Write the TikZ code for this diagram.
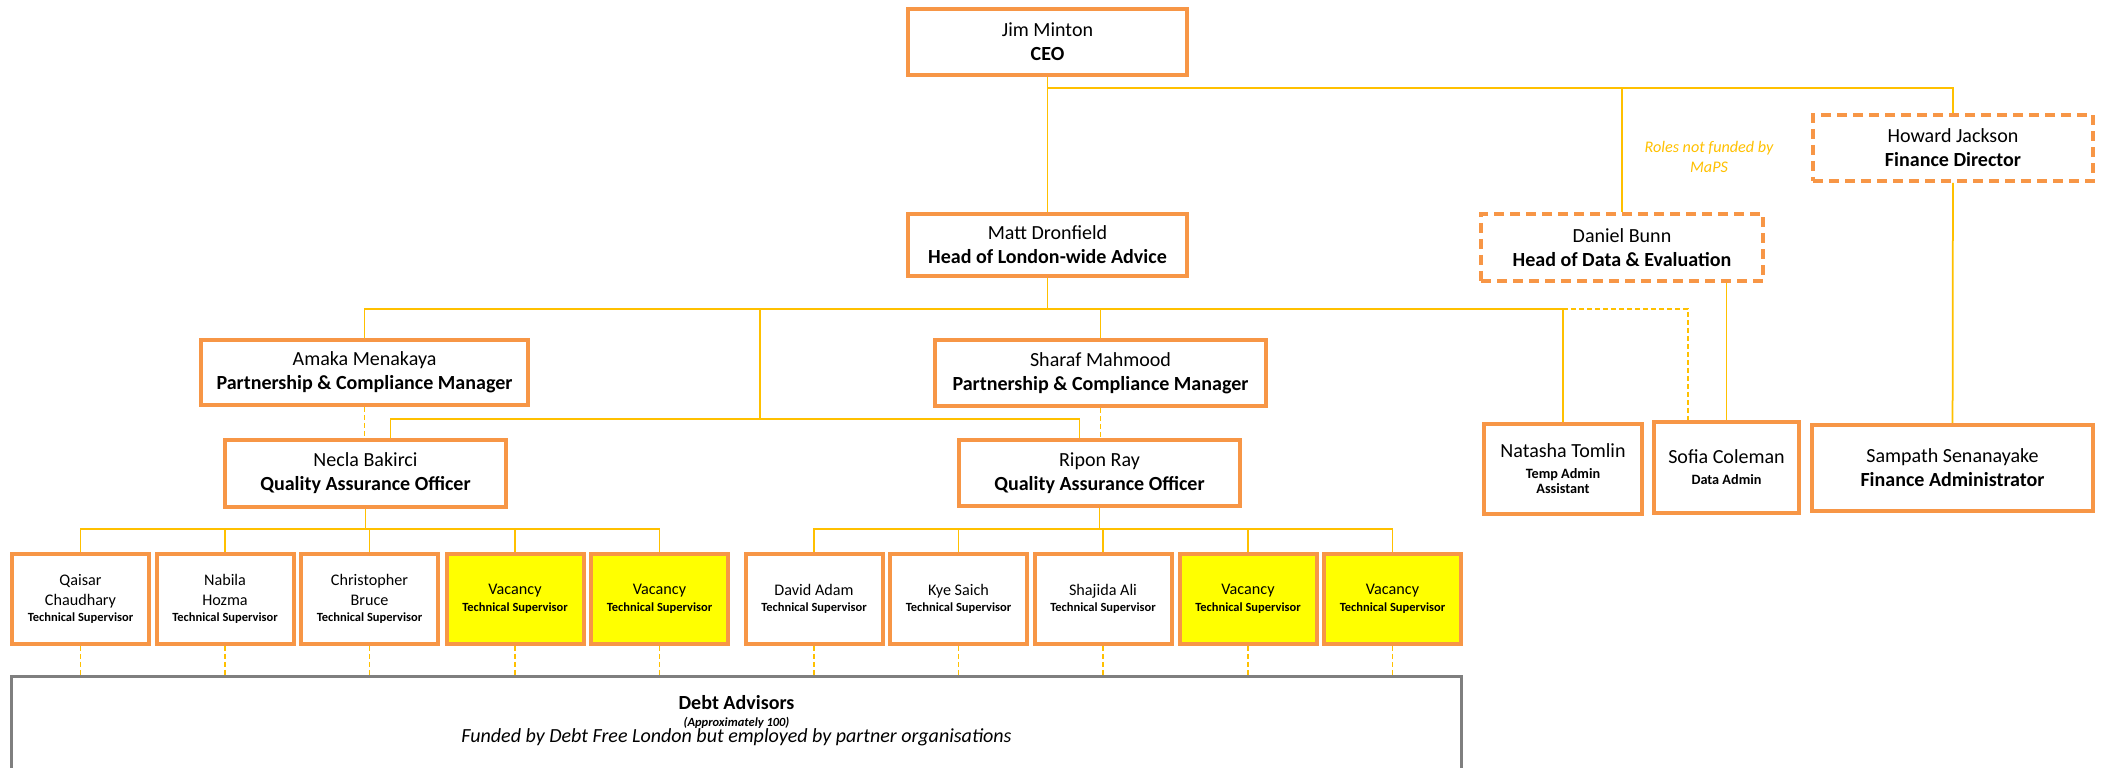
\documentclass[tikz,border=0pt]{standalone}
\usepackage{fontspec}
\setmainfont{Carlito}
\usepackage{xcolor}
\usepackage{tikz}
\usetikzlibrary{calc}
\definecolor{chartorange}{RGB}{247,150,70}
\definecolor{chartgold}{RGB}{255,192,0}
\definecolor{vacyellow}{RGB}{255,255,0}
\definecolor{debtgrey}{RGB}{127,127,127}
\newcommand{\rolefont}{\fontsize{7.1}{8.5}\selectfont\bfseries}
\newcommand{\adminfont}{\fontsize{8.1}{9.5}\selectfont\bfseries}

\tikzset{
  post/.style={draw=chartorange, line width=0.8mm, fill=white, align=center, inner sep=0.5mm, font=\fontsize{11.4}{13.7}\selectfont},
  unfunded/.style={post, dash pattern=on 2mm off 1.2mm},
  tsbox/.style={post, minimum width=27.4mm, minimum height=18mm, font=\fontsize{9.2}{11.4}\selectfont},
  vacancy/.style={tsbox, fill=vacyellow},
  debtbox/.style={draw=debtgrey, line width=0.6mm, minimum width=290mm, minimum height=30mm},
  link/.style={draw=chartgold, line width=0.35mm},
  dlink/.style={draw=chartgold, line width=0.3mm, dash pattern=on 1mm off 0.6mm},
}

\begin{document}
\begin{tikzpicture}[x=0.2mm, y=-0.2mm]
    \useasboundingbox (0,0) rectangle (2105,768);
    \clip (0,0) rectangle (2105,768);
    % top level
    \node[post, minimum width=55.8mm, minimum height=13.2mm] (ceo) at (1047.5,42) {Jim Minton\\\textbf{CEO}};
    \node[post, minimum width=55.8mm, minimum height=12.4mm] (matt) at (1047.5,245) {Matt Dronfield\\\textbf{Head of London-wide Advice}};
    \node[unfunded, minimum width=56.4mm, minimum height=13.4mm] (daniel) at (1622,247.5) {Daniel Bunn\\\textbf{Head of Data \& Evaluation}};
    \node[unfunded, minimum width=56mm, minimum height=13.2mm] (howard) at (1953,148) {Howard Jackson\\\textbf{Finance Director}};
    \node[font=\fontsize{9.2}{11.4}\selectfont\itshape, text=chartgold, align=center] (rolesnote) at (1709,157) {Roles not funded by\\MaPS};
    % managers and officers
    \node[post, minimum width=65.4mm, minimum height=13mm] (amaka) at (364.5,372.5) {Amaka Menakaya\\\textbf{Partnership \& Compliance Manager}};
    \node[post, minimum width=66.2mm, minimum height=13.2mm] (sharaf) at (1100.5,373) {Sharaf Mahmood\\\textbf{Partnership \& Compliance Manager}};
    \node[post, minimum width=56.2mm, minimum height=13.4mm] (necla) at (365.5,473.5) {Necla Bakirci\\\textbf{Quality Assurance Officer}};
    \node[post, minimum width=56.2mm, minimum height=13.2mm] (ripon) at (1099.5,473) {Ripon Ray\\\textbf{Quality Assurance Officer}};
    \node[post, minimum width=31.6mm, minimum height=18mm] (natasha) at (1563,469) {Natasha Tomlin\\[-1.7pt]{\adminfont Temp Admin}\\[-5.2pt]{\adminfont Assistant}};
    \node[post, minimum width=29mm, minimum height=18.2mm] (sofia) at (1726.5,467.5) {Sofia Coleman\\[-1.7pt]{\adminfont Data Admin}};
    \node[post, minimum width=56.2mm, minimum height=17.2mm] (sampath) at (1952.5,468) {Sampath Senanayake\\\textbf{Finance Administrator}};
    % technical supervisors
    \node[tsbox] (qaisar) at (80.5,599) {Qaisar\\Chaudhary\\[-2.5pt]{\rolefont Technical Supervisor}};
    \node[tsbox] (nabila) at (225,599) {Nabila\\Hozma\\[-2.5pt]{\rolefont Technical Supervisor}};
    \node[tsbox] (christopher) at (369.5,599) {Christopher\\Bruce\\[-2.5pt]{\rolefont Technical Supervisor}};
    \node[vacancy] (vacA) at (515,599) {Vacancy\\[-2pt]{\rolefont Technical Supervisor}};
    \node[vacancy] (vacB) at (659.5,599) {Vacancy\\[-2pt]{\rolefont Technical Supervisor}};
    \node[tsbox] (david) at (814,599) {David Adam\\[-2pt]{\rolefont Technical Supervisor}};
    \node[tsbox] (kye) at (958.5,599) {Kye Saich\\[-2pt]{\rolefont Technical Supervisor}};
    \node[tsbox] (shajida) at (1103,599) {Shajida Ali\\[-2pt]{\rolefont Technical Supervisor}};
    \node[vacancy] (vacC) at (1248,599) {Vacancy\\[-2pt]{\rolefont Technical Supervisor}};
    \node[vacancy] (vacD) at (1392.5,599) {Vacancy\\[-2pt]{\rolefont Technical Supervisor}};
    % debt advisors
    \node[debtbox] (debt) at (736.5,751.5) {};
    \node[align=center, font=\fontsize{11.4}{9.4}\selectfont] (debtnote) at (736.5,721) {\textbf{Debt Advisors}\\{\fontsize{7.1}{9.4}\selectfont\bfseries\itshape (Approximately 100)}\\\textit{Funded by Debt Free London but employed by partner organisations}};
    % connectors from the CEO
    \coordinate (ceobus) at (1047.5,88);
    \draw[link] (ceo) -- (matt);
    \draw[link] (ceobus) -| (howard.north);
    \draw[link] (ceobus -| daniel.north) -- (daniel.north);
    \draw[link] (howard) -- (sampath);
    % connectors from Matt
    \coordinate (mattbus) at (1047.5,309);
    \coordinate (sofiadrop) at (1688,309);
    \draw[link] (matt) -- (mattbus);
    \draw[link] (amaka.north) |- (mattbus -| natasha.north) -- (natasha.north);
    \draw[link] (mattbus -| sharaf.north) -- (sharaf.north);
    \draw[dlink] (mattbus -| natasha.north) -- (sofiadrop) -- (sofiadrop |- sofia.north);
    \draw[link] (daniel.south -| sofia.north) -- (sofia.north);
    \coordinate (qabus) at (760,419);
    \coordinate (neclain) at ($(necla.north)+(25,0)$);
    \coordinate (riponin) at ($(ripon.north)+(-20,0)$);
    \draw[link] (mattbus -| qabus) -- (qabus);
    \draw[link] (neclain) |- (qabus) -| (riponin);
    \draw[dlink] (amaka.south) -- (amaka.south |- necla.north);
    \draw[dlink] (sharaf.south) -- (sharaf.south |- ripon.north);
    % connectors to the technical supervisors
    \coordinate (leftbus) at (365.5,529);
    \coordinate (rightbus) at (1099.5,529);
    \draw[link] (necla) -- (leftbus);
    \draw[link] (qaisar.north) |- (leftbus) -| (vacB.north);
    \draw[link] (leftbus -| nabila.north) -- (nabila.north);
    \draw[link] (leftbus -| christopher.north) -- (christopher.north);
    \draw[link] (leftbus -| vacA.north) -- (vacA.north);
    \draw[link] (ripon) -- (rightbus);
    \draw[link] (david.north) |- (rightbus) -| (vacD.north);
    \draw[link] (rightbus -| kye.north) -- (kye.north);
    \draw[link] (rightbus -| shajida.north) -- (shajida.north);
    \draw[link] (rightbus -| vacC.north) -- (vacC.north);
    % down to the debt advisors
    \draw[dlink] (qaisar.south) -- (qaisar.south |- debt.north);
    \draw[dlink] (nabila.south) -- (nabila.south |- debt.north);
    \draw[dlink] (christopher.south) -- (christopher.south |- debt.north);
    \draw[dlink] (vacA.south) -- (vacA.south |- debt.north);
    \draw[dlink] (vacB.south) -- (vacB.south |- debt.north);
    \draw[dlink] (david.south) -- (david.south |- debt.north);
    \draw[dlink] (kye.south) -- (kye.south |- debt.north);
    \draw[dlink] (shajida.south) -- (shajida.south |- debt.north);
    \draw[dlink] (vacC.south) -- (vacC.south |- debt.north);
    \draw[dlink] (vacD.south) -- (vacD.south |- debt.north);
\end{tikzpicture}
\end{document}
